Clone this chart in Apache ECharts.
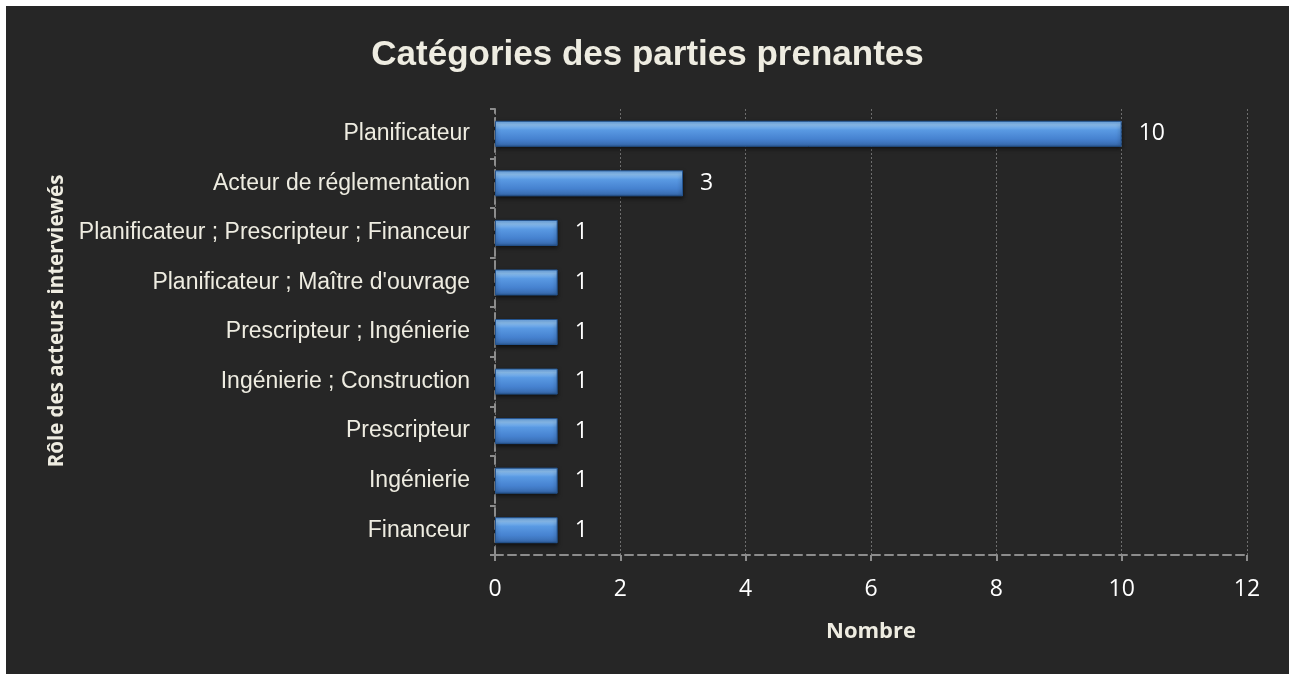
<!DOCTYPE html>
<html lang="fr" style="height: 100%">
<head>
  <meta charset="utf-8">
</head>
<body style="height: 100%; margin: 0; background: #ffffff; overflow: hidden">
  <div id="container" style="position: absolute; left: 6px; top: 6px; width: 1283px; height: 668px"></div>

  <script type="text/javascript" src="https://fastly.jsdelivr.net/npm/echarts@6/dist/echarts.min.js"></script>

  <script type="text/javascript">
    // bottom to top, as the category axis draws them
    var roles = [
      'Financeur',
      'Ingénierie',
      'Prescripteur',
      'Ingénierie ; Construction',
      'Prescripteur ; Ingénierie',
      "Planificateur ; Maître d'ouvrage",
      'Planificateur ; Prescripteur ; Financeur',
      'Acteur de réglementation',
      'Planificateur'
    ];
    var counts = [1, 1, 1, 1, 1, 1, 1, 3, 10];

    var dom = document.getElementById('container');
    var myChart = echarts.init(dom, null, { renderer: 'canvas' });

    var cream = '#eeece1';

    var option = {
      backgroundColor: '#262626',
      animation: false,
      title: {
        text: 'Catégories des parties prenantes',
        left: 'center',
        top: 27,
        textStyle: {
          fontFamily: 'Liberation Sans',
          fontWeight: 'bold',
          fontSize: 35,
          color: cream
        }
      },
      grid: {
        left: 489,
        right: 42,
        top: 103,
        bottom: 119
      },
      xAxis: {
        type: 'value',
        min: 0,
        max: 12,
        interval: 2,
        name: 'Nombre',
        nameLocation: 'middle',
        nameGap: 66,
        nameTextStyle: {
          fontFamily: 'Open Sans',
          fontWeight: 'bold',
          fontSize: 22,
          color: cream
        },
        axisLine: {
          show: true,
          lineStyle: { color: '#8c8c8c', width: 2, type: [8, 5] }
        },
        axisTick: {
          show: true,
          length: 6,
          lineStyle: { color: '#8c8c8c', width: 2 }
        },
        axisLabel: {
          margin: 23,
          fontFamily: 'Open Sans',
          fontSize: 23,
          color: '#ffffff'
        },
        splitLine: {
          show: true,
          lineStyle: { color: '#6e6e6e', width: 1, type: [2, 2] }
        }
      },
      yAxis: {
        type: 'category',
        data: roles,
        name: 'Rôle des acteurs interviewés',
        nameLocation: 'middle',
        nameGap: 420,
        nameRotate: 90,
        nameTextStyle: {
          fontFamily: 'Open Sans',
          fontWeight: 'bold',
          fontSize: 20.5,
          color: cream,
          padding: [0, 0, 0, 22]
        },
        axisLine: {
          show: true,
          lineStyle: { color: '#8c8c8c', width: 2, type: [8, 5] }
        },
        axisTick: {
          show: true,
          length: 5,
          lineStyle: { color: '#8c8c8c', width: 2 }
        },
        axisLabel: {
          margin: 25,
          fontFamily: 'Liberation Sans',
          fontSize: 23,
          color: cream
        }
      },
      series: [
        {
          type: 'bar',
          data: counts,
          barWidth: 26,
          itemStyle: {
            borderColor: '#24548f',
            borderWidth: 1,
            shadowColor: 'rgba(0,0,0,0.6)',
            shadowBlur: 4,
            shadowOffsetY: 2,
            color: new echarts.graphic.LinearGradient(0, 0, 0, 1, [
              { offset: 0, color: '#6aa8ec' },
              { offset: 0.15, color: '#8fc4f7' },
              { offset: 0.35, color: '#5a9ae3' },
              { offset: 0.7, color: '#4682d0' },
              { offset: 0.9, color: '#3b70b6' },
              { offset: 1, color: '#2e5c98' }
            ])
          },
          label: {
            show: true,
            position: 'right',
            distance: 17,
            fontFamily: 'Open Sans',
            fontSize: 23,
            color: '#ffffff'
          }
        }
      ]
    };

    myChart.setOption(option);

    window.addEventListener('resize', myChart.resize);
  </script>
</body>
</html>
